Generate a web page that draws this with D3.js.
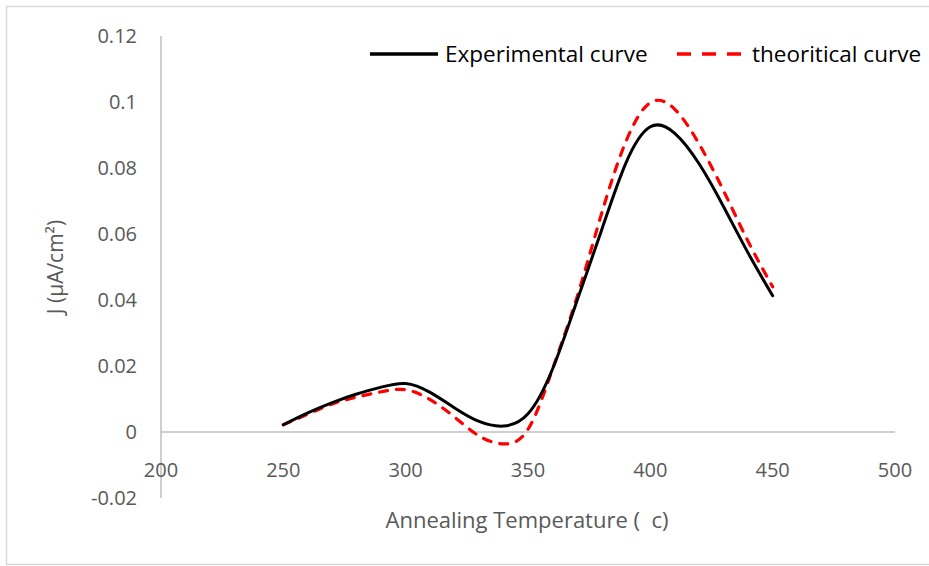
<!DOCTYPE html>
<html>
<head>
<meta charset="utf-8">
<script src="https://cdn.jsdelivr.net/npm/d3@7"></script>
<style>
  body { margin: 0; background: #fff; }
  svg { font-family: 'Open Sans', sans-serif; }
  text { white-space: pre; }
</style>
</head>
<body>
<div id="chart"></div>
<script>
const temps = [250, 260, 270, 280, 290, 300, 310, 320, 330, 340, 350,
  360, 370, 380, 390, 400, 410, 420, 430, 440, 450];
const experimental = [0.0022, 0.0058, 0.0089, 0.0115, 0.0136, 0.0147, 0.0120, 0.0073, 0.0032, 0.0018, 0.0055,
  0.0190, 0.0397, 0.0610, 0.0815, 0.0925, 0.0905, 0.0812, 0.0682, 0.0542, 0.0413];
const theoretical = [0.0022, 0.0054, 0.0085, 0.0106, 0.0122, 0.0128, 0.0098, 0.0045, -0.0012, -0.0036, 0.0008,
  0.0190, 0.0408, 0.0660, 0.0880, 0.0998, 0.0978, 0.0872, 0.0730, 0.0577, 0.0440];
const xTicks = [200, 250, 300, 350, 400, 450, 500];
const yTicks = [-0.02, 0, 0.02, 0.04, 0.06, 0.08, 0.1, 0.12];
const seriesNames = ['Experimental curve', 'theoritical curve'];

const size = { width: 929, height: 566 };

const svg = d3.select('#chart')
  .append('svg')
  .attr('width', size.width)
  .attr('height', size.height);

// outer chart frame
svg.append('rect')
  .attr('x', 6.5)
  .attr('y', 6.5)
  .attr('width', 940)
  .attr('height', 558)
  .attr('fill', 'none')
  .attr('stroke', '#d9d9d9')
  .attr('stroke-width', 1.5);

const x = d3.scaleLinear().domain([200, 500]).range([161, 895]);
const y = d3.scaleLinear().domain([-0.02, 0.12]).range([498, 36]);

// axes: y at x=200, x at y=0
svg.append('line')
  .attr('x1', x(200)).attr('x2', x(200))
  .attr('y1', y(-0.02)).attr('y2', y(0.12))
  .attr('stroke', '#bfbfbf').attr('stroke-width', 1.5);
svg.append('line')
  .attr('x1', x(200)).attr('x2', x(500))
  .attr('y1', y(0)).attr('y2', y(0))
  .attr('stroke', '#bfbfbf').attr('stroke-width', 1.5);

svg.selectAll('.ytick')
  .data(yTicks)
  .enter()
  .append('text')
  .attr('x', 137)
  .attr('y', (d) => y(d))
  .attr('dy', '0.35em')
  .attr('text-anchor', 'end')
  .attr('font-size', 20)
  .attr('fill', '#595959')
  .text((d) => (d === 0 ? '0' : String(d)));

svg.selectAll('.xtick')
  .data(xTicks)
  .enter()
  .append('text')
  .attr('x', (d) => x(d))
  .attr('y', 470)
  .attr('dy', '0.35em')
  .attr('text-anchor', 'middle')
  .attr('font-size', 20)
  .attr('fill', '#595959')
  .text((d) => d);

svg.append('text')
  .attr('x', 527)
  .attr('y', 520)
  .attr('dy', '0.35em')
  .attr('text-anchor', 'middle')
  .attr('font-size', 22)
  .attr('fill', '#595959')
  .text('Annealing Temperature (  c)');

svg.append('text')
  .attr('transform', 'translate(56,267) rotate(-90)')
  .attr('dy', '0.35em')
  .attr('text-anchor', 'middle')
  .attr('font-size', 21)
  .attr('fill', '#595959')
  .text('J (µA/cm²)');

const line = d3.line()
  .x((d) => x(d[0]))
  .y((d) => y(d[1]))
  .curve(d3.curveNatural);

svg.append('path')
  .datum(temps.map((t, i) => [t, theoretical[i]]))
  .attr('d', line)
  .attr('fill', 'none')
  .attr('stroke', '#ff0000')
  .attr('stroke-width', 3.2)
  .attr('stroke-linecap', 'round')
  .attr('stroke-dasharray', '8,9');

svg.append('path')
  .datum(temps.map((t, i) => [t, experimental[i]]))
  .attr('d', line)
  .attr('fill', 'none')
  .attr('stroke', '#000')
  .attr('stroke-width', 3)
  .attr('stroke-linecap', 'round');

// legend
const legend = [
  { name: seriesNames[0], x: 370, color: '#000', dash: null },
  { name: seriesNames[1], x: 677, color: '#ff0000', dash: '14,11' },
];
const lg = svg.selectAll('.legend')
  .data(legend)
  .enter()
  .append('g')
  .attr('transform', (d) => `translate(${d.x},54)`);
lg.append('line')
  .attr('x1', 0).attr('x2', (d) => (d.dash ? 66 : 68))
  .attr('stroke', (d) => d.color)
  .attr('stroke-width', 3.5)
  .attr('stroke-dasharray', (d) => d.dash);
lg.append('text')
  .attr('x', 75)
  .attr('dy', '0.35em')
  .attr('font-size', 22.5)
  .attr('fill', '#000')
  .text((d) => d.name);
</script>
</body>
</html>
